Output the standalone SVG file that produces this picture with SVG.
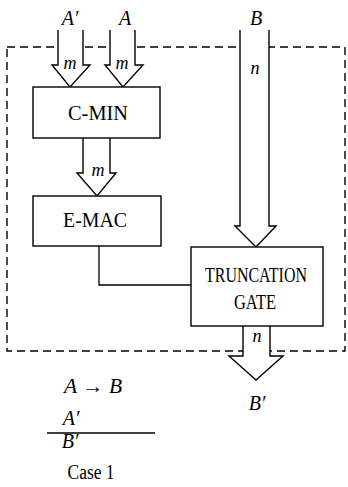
<svg xmlns="http://www.w3.org/2000/svg" width="348" height="487" viewBox="0 0 348 487">
<style>
.box{fill:#fff;stroke:#000;stroke-width:1.4}
.arr{fill:#fff;stroke:#000;stroke-width:1.4;stroke-linejoin:miter}
.ln{fill:none;stroke:#000;stroke-width:1.3}
.dash{fill:none;stroke:#000;stroke-width:1.4;stroke-dasharray:8 5}
.lbl{font-family:"Liberation Serif",serif;font-size:20px;fill:#000;text-anchor:middle}
.it{font-family:"Liberation Serif",serif;font-style:italic;font-size:20px;fill:#000;text-anchor:middle}
.sm{font-family:"Liberation Serif",serif;font-style:italic;font-size:18px;fill:#000;text-anchor:middle}
</style>
<rect class="dash" x="7" y="47" width="338" height="304"/>
<g id="connectors">
<polyline class="arr" points="58,30 58,65 52,65 70,87 90,65 83,65 83,30"/>
<polyline class="arr" points="110,30 110,65 105,65 123,87 143,65 135,65 135,30"/>
<polyline class="arr" points="83,138 83,173 77,173 97,196 116,173 110,173 110,138"/>
<polyline class="arr" points="240,30 240,226 235,226 256,247 276,226 269,226 269,30"/>
<polyline class="arr" points="243,326 243,356 229,356 256,380 283,356 270,356 270,326"/>
<polyline class="ln" points="99,246 99,285 191,285"/>
<text class="sm" x="70" y="69">m</text>
<text class="sm" x="122" y="69">m</text>
<text class="sm" x="98" y="176">m</text>
<text class="sm" x="255" y="74">n</text>
<text class="sm" x="257" y="342">n</text>
</g>
<g id="cmin">
<rect class="box" x="33" y="87" width="127" height="51"/>
<text class="lbl" x="98" y="120" textLength="60" lengthAdjust="spacingAndGlyphs">C-MIN</text>
</g>
<g id="emac">
<rect class="box" x="33" y="196" width="128" height="50"/>
<text class="lbl" x="95" y="227" textLength="64" lengthAdjust="spacingAndGlyphs">E-MAC</text>
</g>
<g id="trunc">
<rect class="box" x="191" y="247" width="132" height="79"/>
<text class="lbl" x="256" y="282" textLength="102" lengthAdjust="spacingAndGlyphs">TRUNCATION</text>
<text class="lbl" x="255" y="309" textLength="42" lengthAdjust="spacingAndGlyphs">GATE</text>
</g>
<g id="labels">
<text class="it" x="70" y="25">A′</text>
<text class="it" x="125" y="25">A</text>
<text class="it" x="256" y="25">B</text>
<text class="it" x="257" y="410">B′</text>
<text class="it" x="93" y="393" textLength="58" lengthAdjust="spacingAndGlyphs">A → B</text>
<text class="it" x="71" y="425">A′</text>
<line class="ln" x1="47" y1="433" x2="155" y2="433"/>
<text class="it" x="70" y="448">B′</text>
<text class="lbl" x="91" y="479" textLength="47" lengthAdjust="spacingAndGlyphs">Case 1</text>
</g>
</svg>
